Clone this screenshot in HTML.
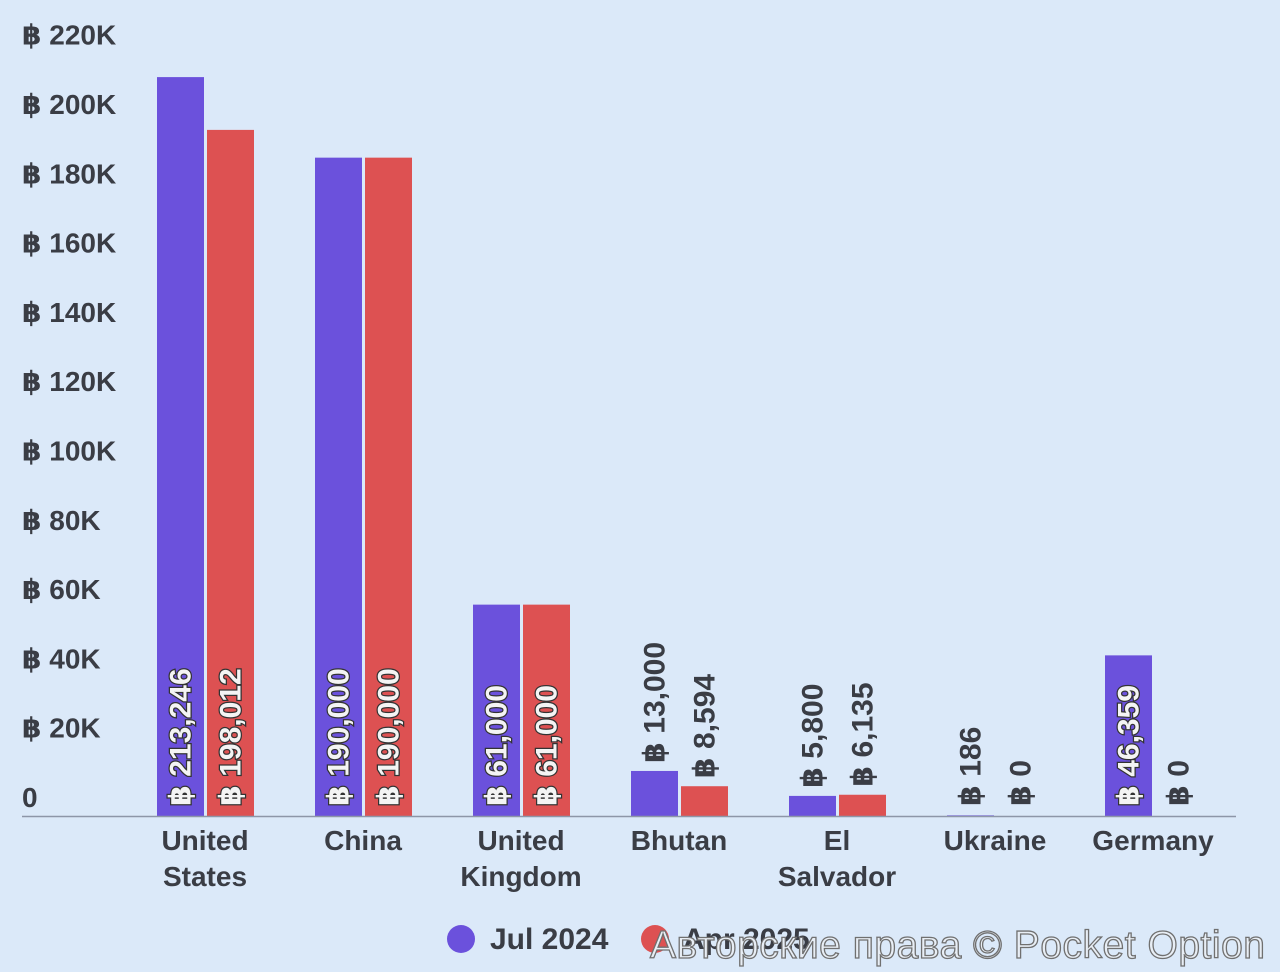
<!DOCTYPE html>
<html><head><meta charset="utf-8">
<style>
html,body{margin:0;padding:0;background:#dbe9f9;}
svg{display:block;font-family:"Liberation Sans","DejaVu Sans",sans-serif;}
</style></head>
<body>
<svg id="chart" width="1280" height="972" viewBox="0 0 1280 972" xmlns="http://www.w3.org/2000/svg">
<rect width="1280" height="972" fill="#dbe9f9"/>
<g id="yaxis"></g><g id="bars"></g><g id="xaxis"></g>
<line x1="22" y1="816.5" x2="1236" y2="816.5" stroke="#8d96a8" stroke-width="1.5"/>
<g>
<g><circle cx="461" cy="939" r="14" fill="#6b51dc"/><text x="490" y="949" font-size="30" font-weight="bold" fill="#3a3d45">Jul 2024</text></g>
<g><circle cx="655" cy="939" r="14" fill="#dd5152"/><text x="683" y="949" font-size="30" font-weight="bold" fill="#3a3d45">Apr 2025</text></g>
</g>
<text x="650" y="958" font-size="39" fill="#e8eef5" stroke="#707070" stroke-width="1.3" textLength="615">Авторские права © Pocket Option</text>
</svg>
<script>
const categories=[["United","States"],["China"],["United","Kingdom"],["Bhutan"],["El","Salvador"],["Ukraine"],["Germany"]];
const jul2024=[213246,190000,61000,13000,5800,186,46359];
const apr2025=[198012,190000,61000,8594,6135,0,0];
const yTicks=[0,20000,40000,60000,80000,100000,120000,140000,160000,180000,200000,220000];
const yTickLabels=["0","฿ 20K","฿ 40K","฿ 60K","฿ 80K","฿ 100K","฿ 120K","฿ 140K","฿ 160K","฿ 180K","฿ 200K","฿ 220K"];
const NS="http://www.w3.org/2000/svg";
const y0=816,pxPer=69.3/20000;
function yScale(v){return y0-v*pxPer;}
function xCenter(i){return 205+i*158;}
function mk(tag,attrs,parent){const e=document.createElementNS(NS,tag);for(const k in attrs)e.setAttribute(k,attrs[k]);parent.appendChild(e);return e;}
const ya=document.getElementById('yaxis');
yTicks.forEach((t,i)=>{
  const tx=mk('text',{x:22,y:yScale(t)-9,'font-size':28,'font-weight':'bold',fill:'#3a3d45'},ya);
  
  
  tx.textContent=yTickLabels[i];
});
const xa=document.getElementById('xaxis');
categories.forEach((c,i)=>{
  c.forEach((line,j)=>{
    const tx=mk('text',{x:xCenter(i),y:850+j*36,'font-size':28,'font-weight':'bold',fill:'#3a3d45','text-anchor':'middle'},xa);
    
    
    tx.textContent=line;
  });
});
const bg=document.getElementById('bars');
function fmt(v){return "฿ "+v.toLocaleString('en-US');}
function drawBar(v,i,off,color,name){
  const x=xCenter(i)+off, top=yScale(v), h=y0-top;
  const r=mk('rect',{x:x,y:top,width:47,height:Math.max(h,1),fill:color},bg);
  
  
  const label=fmt(v);
  const tl=label.length*15.5;
  const cx=x+23.5+10;
  let yb, inside=h>tl+15;
  yb=inside?806:Math.min(806,top-8);
  const t=mk('text',{x:cx,y:yb,'font-size':30,'font-weight':'bold',transform:`rotate(-90 ${cx} ${yb})`,
    fill:inside?'#f4f4f4':'#3a3d45',stroke:inside?'#333':'none','stroke-width':inside?2.5:0,'paint-order':'stroke'},bg);
  
  
  t.textContent=label;
}
jul2024.forEach((v,i)=>drawBar(v,i,-48,'#6b51dc','bar-jul-2024'));
apr2025.forEach((v,i)=>drawBar(v,i,2,'#dd5152','bar-apr-2025'));
</script>
</body></html>
